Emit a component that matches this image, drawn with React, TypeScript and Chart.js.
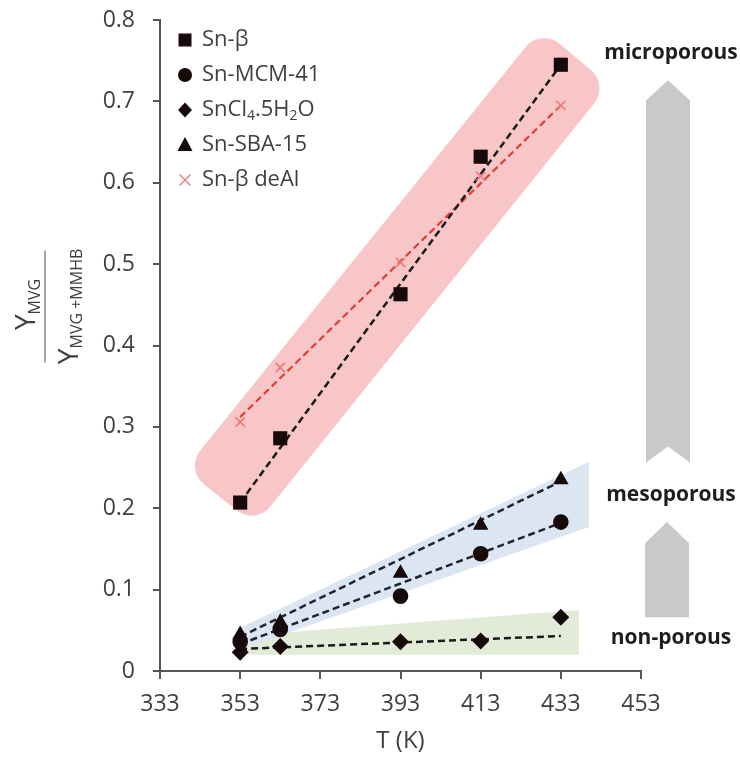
import React, { useEffect, useRef } from 'react';
import { Chart, registerables } from 'chart.js';

Chart.register(...registerables);

// ---- data ----
const temperatures = [353, 363, 393, 413, 433];
const snBeta = [0.207, 0.286, 0.463, 0.632, 0.745];
const snMcm41 = [0.036, 0.051, 0.092, 0.144, 0.183];
const snCl4 = [0.023, 0.030, 0.036, 0.037, 0.066];
const snSba15 = [0.045, 0.060, 0.120, 0.179, 0.235];
const snBetaDeAl = [0.306, 0.373, 0.502, 0.608, 0.695];

// dashed trend lines (start / end temperature and values)
const trendRange = [353, 433];
const trendSnBeta = [0.207, 0.745];
const trendSnBetaDeAl = [0.312, 0.695];
const trendSnSba15 = [0.042, 0.233];
const trendSnMcm41 = [0.033, 0.182];
const trendSnCl4 = [0.027, 0.043];

const xTickValues = [333, 353, 373, 393, 413, 433, 453];
const yTickValues = [0, 0.1, 0.2, 0.3, 0.4, 0.5, 0.6, 0.7, 0.8];

const seriesLabels = ['Sn-β', 'Sn-MCM-41', 'SnCl_{4}.5H_{2}O', 'Sn-SBA-15', 'Sn-β deAl'];
const regionLabels = ['microporous', 'mesoporous', 'non-porous'];
const regionLabelValues = [0.759, 0.216, 0.041];

// shaded regions, corners in data units (T, value)
const microBand = [[356.75, 0.179], [445, 0.72], [428, 0.79], [339.25, 0.248]];
const mesoBand = [[353, 0.026], [440, 0.177], [440, 0.257], [353, 0.053]];
const nonBand = [[354.75, 0.02], [437.5, 0.02], [437.5, 0.075], [354.75, 0.044]];

// arrows on the right (values)
const bigArrow = { tip: 0.726, shoulder: 0.701, bottom: 0.256, notch: 0.276 };
const smallArrow = { tip: 0.183, shoulder: 0.157, bottom: 0.066 };

const FONT = "'Open Sans', 'DejaVu Sans', sans-serif";
const TEXT = '#404040';
const MARK = '#160a0a';

function pts(xs: number[], ys: number[]) {
  return xs.map((x, i) => ({ x, y: ys[i] }));
}

function drawRich(ctx: CanvasRenderingContext2D, text: string, x: number, y: number, size: number, subSize: number, subShift: number, align: 'left' | 'center') {
  const parts: { t: string; sub: boolean }[] = [];
  const re = /_\{([^}]*)\}/g;
  let last = 0;
  let m;
  while ((m = re.exec(text))) {
    if (m.index > last) parts.push({ t: text.slice(last, m.index), sub: false });
    parts.push({ t: m[1], sub: true });
    last = m.index + m[0].length;
  }
  if (last < text.length) parts.push({ t: text.slice(last), sub: false });
  let total = 0;
  const widths = parts.map((p) => {
    ctx.font = `${p.sub ? subSize : size}px ${FONT}`;
    const w = ctx.measureText(p.t).width;
    total += w;
    return w;
  });
  let cx = align === 'center' ? x - total / 2 : x;
  ctx.textAlign = 'left';
  parts.forEach((p, i) => {
    ctx.font = `${p.sub ? subSize : size}px ${FONT}`;
    ctx.fillText(p.t, cx, p.sub ? y + subShift : y);
    cx += widths[i];
  });
}

function roundedPoly(ctx: CanvasRenderingContext2D, p: number[][], r: number) {
  const n = p.length;
  ctx.beginPath();
  const sx = (p[n - 1][0] + p[0][0]) / 2;
  const sy = (p[n - 1][1] + p[0][1]) / 2;
  ctx.moveTo(sx, sy);
  for (let i = 0; i < n; i++) {
    const a = p[i];
    const b = p[(i + 1) % n];
    if (r > 0) ctx.arcTo(a[0], a[1], b[0], b[1], r);
    else ctx.lineTo(a[0], a[1]);
  }
  ctx.closePath();
}

function drawMarker(ctx: CanvasRenderingContext2D, kind: string, x: number, y: number) {
  ctx.save();
  ctx.fillStyle = MARK;
  ctx.beginPath();
  if (kind === 'rect') {
    ctx.rect(x - 6.5, y - 6.5, 13, 13);
    ctx.fill();
  } else if (kind === 'circle') {
    ctx.arc(x, y, 7, 0, Math.PI * 2);
    ctx.fill();
  } else if (kind === 'diamond') {
    ctx.moveTo(x, y - 7.5);
    ctx.lineTo(x + 7, y);
    ctx.lineTo(x, y + 7.5);
    ctx.lineTo(x - 7, y);
    ctx.closePath();
    ctx.fill();
  } else if (kind === 'triangle') {
    ctx.moveTo(x, y - 8);
    ctx.lineTo(x + 7.5, y + 6);
    ctx.lineTo(x - 7.5, y + 6);
    ctx.closePath();
    ctx.fill();
  } else {
    ctx.strokeStyle = '#EE8580';
    ctx.lineWidth = 1.6;
    ctx.moveTo(x - 5.5, y - 5.5);
    ctx.lineTo(x + 5.5, y + 5.5);
    ctx.moveTo(x + 5.5, y - 5.5);
    ctx.lineTo(x - 5.5, y + 5.5);
    ctx.stroke();
  }
  ctx.restore();
}

const legendKinds = ['rect', 'circle', 'diamond', 'triangle', 'cross'];

const bandsPlugin = {
  id: 'bands',
  beforeDatasetsDraw(chart: any) {
    const { ctx } = chart;
    const xs = chart.scales.x;
    const ys = chart.scales.y;
    const toPx = (b: number[][]) => b.map(([t, v]) => [xs.getPixelForValue(t), ys.getPixelForValue(v)]);
    ctx.save();
    ctx.fillStyle = '#F8C6C6';
    roundedPoly(ctx, toPx(microBand), 24);
    ctx.fill();
    ctx.fillStyle = '#E3EAD8';
    roundedPoly(ctx, toPx(nonBand), 0);
    ctx.fill();
    ctx.fillStyle = '#DCE6F3';
    roundedPoly(ctx, toPx(mesoBand), 0);
    ctx.fill();
    ctx.restore();
  },
};

const overlayPlugin = {
  id: 'overlay',
  afterDraw(chart: any) {
    const { ctx, chartArea } = chart;
    const ys = chart.scales.y;
    ctx.save();
    // legend
    ctx.textBaseline = 'middle';
    seriesLabels.forEach((lab, i) => {
      const y = chartArea.top + 20 + i * 35;
      drawMarker(ctx, legendKinds[i], chartArea.left + 25, y);
      ctx.fillStyle = TEXT;
      drawRich(ctx, lab, chartArea.left + 42, y, 22, 14, 6, 'left');
    });

    // y-axis title as fraction
    const cx = chartArea.left - 115;
    const cy = ys.getPixelForValue(0.448);
    ctx.strokeStyle = '#8a8a8a';
    ctx.lineWidth = 1.5;
    ctx.beginPath();
    ctx.moveTo(cx, cy - 56);
    ctx.lineTo(cx, cy + 56);
    ctx.stroke();
    ctx.translate(cx, cy);
    ctx.rotate(-Math.PI / 2);
    ctx.fillStyle = TEXT;
    ctx.textBaseline = 'alphabetic';
    drawRich(ctx, 'Y_{MVG}', 2, -10, 28, 16, 5, 'center');
    drawRich(ctx, 'Y_{MVG +MMHB}', 0, 33, 28, 16, 4, 'center');
    ctx.setTransform(1, 0, 0, 1, 0, 0);

    // arrows
    const ax = chartArea.right + 27;
    const hw = 22;
    ctx.fillStyle = '#C9C9C9';
    ctx.beginPath();
    ctx.moveTo(ax, ys.getPixelForValue(bigArrow.tip));
    ctx.lineTo(ax + hw, ys.getPixelForValue(bigArrow.shoulder));
    ctx.lineTo(ax + hw, ys.getPixelForValue(bigArrow.bottom));
    ctx.lineTo(ax, ys.getPixelForValue(bigArrow.notch));
    ctx.lineTo(ax - hw, ys.getPixelForValue(bigArrow.bottom));
    ctx.lineTo(ax - hw, ys.getPixelForValue(bigArrow.shoulder));
    ctx.closePath();
    ctx.fill();
    ctx.beginPath();
    ctx.moveTo(ax - 1, ys.getPixelForValue(smallArrow.tip));
    ctx.lineTo(ax - 1 + hw, ys.getPixelForValue(smallArrow.shoulder));
    ctx.lineTo(ax - 1 + hw, ys.getPixelForValue(smallArrow.bottom));
    ctx.lineTo(ax - 1 - hw, ys.getPixelForValue(smallArrow.bottom));
    ctx.lineTo(ax - 1 - hw, ys.getPixelForValue(smallArrow.shoulder));
    ctx.closePath();
    ctx.fill();

    // region labels
    ctx.fillStyle = '#1e1e1e';
    ctx.font = `bold 21px ${FONT}`;
    ctx.textAlign = 'center';
    ctx.textBaseline = 'middle';
    regionLabels.forEach((t, i) => {
      ctx.fillText(t, ax + 3, ys.getPixelForValue(regionLabelValues[i]));
    });
    ctx.restore();
  },
};

export default function App() {
  const ref = useRef<HTMLCanvasElement | null>(null);
  useEffect(() => {
    if (!ref.current) return;
    const dashLine = (data: number[], color: string, width: number, dash: number[]) => ({
      data: pts(trendRange, data),
      showLine: true,
      borderColor: color,
      borderWidth: width,
      borderDash: dash,
      pointRadius: 0,
      fill: false,
      order: 2,
    });
    const chart = new Chart(ref.current, {
      type: 'scatter',
      data: {
        datasets: [
          dashLine(trendSnBeta, '#1a1a1a', 2.5, [7, 4]),
          dashLine(trendSnBetaDeAl, '#E23B3B', 2.2, [7, 4]),
          dashLine(trendSnSba15, '#1d2630', 2.5, [7, 4]),
          dashLine(trendSnMcm41, '#1d2630', 2.5, [7, 4]),
          dashLine(trendSnCl4, '#1a1a1a', 2.5, [7, 4]),
          { label: seriesLabels[0], data: pts(temperatures, snBeta), pointStyle: 'rect', pointRadius: 10, backgroundColor: MARK, borderColor: MARK, borderWidth: 0, order: 1 },
          { label: seriesLabels[1], data: pts(temperatures, snMcm41), pointStyle: 'circle', pointRadius: 7.8, backgroundColor: MARK, borderColor: MARK, borderWidth: 0, order: 1 },
          { label: seriesLabels[2], data: pts(temperatures, snCl4), pointStyle: 'rectRot', pointRadius: 8.5, backgroundColor: MARK, borderColor: MARK, borderWidth: 0, order: 1 },
          { label: seriesLabels[3], data: pts(temperatures, snSba15), pointStyle: 'triangle', pointRadius: 9, backgroundColor: MARK, borderColor: MARK, borderWidth: 0, order: 1 },
          { label: seriesLabels[4], data: pts(temperatures, snBetaDeAl), pointStyle: 'crossRot', pointRadius: 6.5, backgroundColor: '#EE7A74', borderColor: '#EE7A74', borderWidth: 1.6, order: 0 },
        ],
      },
      options: {
        responsive: false,
        animation: false,
        layout: { padding: { left: 0, top: 20, right: 99, bottom: 0 } },
        plugins: { legend: { display: false }, tooltip: { enabled: false } },
        scales: {
          x: {
            type: 'linear',
            min: 333,
            max: 453,
            afterBuildTicks: (s: any) => { s.ticks = xTickValues.map((v) => ({ value: v })); },
            afterFit: (s: any) => { s.height = 87; },
            ticks: { font: { family: FONT, size: 23 }, color: TEXT, padding: 12, callback: (v: any) => String(v) },
            grid: { drawOnChartArea: false, drawTicks: true, tickLength: 8, color: '#555', lineWidth: 2 },
            border: { color: '#555', width: 2 },
            title: { display: true, text: 'T (K)', font: { family: FONT, size: 24 }, color: TEXT, padding: { top: 0, bottom: 2 } },
          },
          y: {
            type: 'linear',
            min: 0,
            max: 0.8,
            afterBuildTicks: (s: any) => { s.ticks = yTickValues.map((v) => ({ value: v })); },
            afterFit: (s: any) => { s.width = 160; s.paddingTop = 0; s.paddingBottom = 0; },
            ticks: { font: { family: FONT, size: 23 }, color: TEXT, padding: 18, callback: (v: any) => (v === 0 ? '0' : Number(v).toFixed(1)) },
            grid: { drawOnChartArea: false, drawTicks: true, tickLength: 7, color: '#555', lineWidth: 2 },
            border: { color: '#555', width: 2 },
          },
        },
      },
      plugins: [bandsPlugin, overlayPlugin],
    } as any);
    return () => chart.destroy();
  }, []);
  return (
    <div style={{ position: 'fixed', left: 0, top: 0, width: 740, height: 758, background: '#fff' }}>
      <canvas ref={ref} width={740} height={758} style={{ display: 'block' }} />
    </div>
  );
}
